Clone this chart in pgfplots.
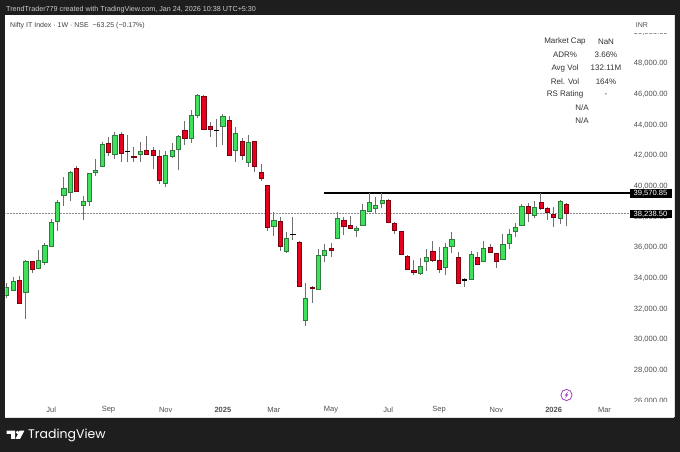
\documentclass[border=0pt]{standalone}
\usepackage{fontspec}
\setmainfont{Liberation Sans}
\newfontfamily\logofont{Poppins}
\usepackage{pgfplots}
\usepackage{pgfplotstable}
\pgfplotsset{compat=1.18}
\definecolor{tvdark}{HTML}{1E1E1E}
\definecolor{tvtext}{HTML}{505050}
\definecolor{upfill}{HTML}{3FE05A}
\definecolor{upedge}{HTML}{2F7A3F}
\definecolor{dnfill}{HTML}{E8001F}
\definecolor{dnedge}{HTML}{7A0010}
\definecolor{wickc}{HTML}{707070}
\definecolor{boltc}{HTML}{A040C0}
% t: 1 up, 2 down, 3 doji
\pgfplotstableread{
i t o h l c
0 1 32874 33721 32700 33395
1 1 33222 34069 33178 33786
2 2 33873 34177 32309 32353
3 1 33091 35198 31332 35111
4 2 35089 35133 34329 34568
5 1 34655 35849 34611 35154
6 1 35046 36284 34894 36132
7 1 36066 37869 36023 37652
8 1 37717 39107 37065 38977
9 1 39389 40627 38716 39889
10 1 39628 41018 39063 40909
11 2 41170 41322 39650 39693
12 1 38781 39389 37804 38998
13 1 38998 40866 38716 40823
14 1 40909 41778 40692 41040
15 1 41300 42864 41279 42734
16 2 42799 43233 41995 42191
17 1 42082 43515 41778 43320
18 2 43407 43559 41583 42169
19 3 42290 43342 41604 42270
20 2 41974 42538 41604 41865
21 1 42082 42864 41583 42278
22 2 42321 43277 42039 42082
23 2 42364 42538 41105 41995
24 2 41952 42364 40149 40388
25 1 40171 42321 39954 41995
26 1 41930 42820 41822 42321
27 1 42408 43342 41040 43255
28 2 43624 44254 42712 43103
29 1 43125 44970 42842 44645
30 1 44601 45991 44428 45948
31 2 45883 45926 43667 43733
32 2 43928 44210 43233 43689
33 3 43656 44362 42538 43636
34 1 43928 44732 42712 44536
35 2 44319 44580 41952 41995
36 1 42343 43885 41604 43450
37 2 42929 43168 41691 42017
38 1 41561 43342 41279 42864
39 2 42907 42929 40953 41279
40 2 40888 41474 40366 40497
41 2 40062 40106 37109 37304
42 1 37370 38325 36761 37760
43 2 37717 37978 35806 36110
44 1 35784 37044 35676 36631
45 3 36880 38021 36479 36860
46 2 36371 36414 33439 33482
47 1 31289 33678 30898 32700
48 2 33439 33504 32418 33374
49 1 33287 35893 33243 35524
50 1 35501 36240 35089 35827
51 2 35979 36283 35415 35849
52 1 36631 38325 36587 37912
53 2 37803 37977 36848 37369
54 2 37434 38064 37195 37261
55 1 37109 37391 36696 37261
56 1 37478 38846 37413 38412
57 1 38390 39541 38325 38933
58 1 38585 39280 38238 38759
59 1 38889 39541 38607 39106
60 2 39085 39150 37586 37651
61 2 37586 37695 36913 37109
62 2 37043 37087 35523 35588
63 2 35458 35523 34568 34611
64 2 34502 35197 34198 34372
65 1 34307 35306 34242 34763
66 1 35111 35892 34481 35371
67 2 35740 36414 35089 35154
68 2 35197 36023 34329 34611
69 1 34720 36327 34220 36044
70 1 36110 37022 35653 36522
71 2 35371 35740 33634 33677
72 3 33926 34003 33417 33906
73 1 33938 35784 33894 35567
74 2 35349 35719 34850 34893
75 1 35089 36435 35045 35936
76 2 36023 36218 35632 35697
77 2 35610 35675 34698 35089
78 1 35219 36891 35176 36240
79 1 36262 37239 35892 36848
80 1 37043 37630 36718 37347
81 1 37434 38868 37391 38672
82 2 38716 38889 37651 38216
83 1 38086 39020 37912 38629
84 2 38954 39570 38477 38542
85 2 38564 38672 37803 38281
86 2 38173 38672 37326 37977
87 1 37890 39106 37543 39020
88 2 38846 38889 37413 38238.5
}\candles
\begin{document}
\begin{tikzpicture}[x=1pt,y=1pt]
\fill[tvdark] (0,0) rectangle (680,452);
\begin{axis}[
  at={(5.5pt,34.5pt)}, anchor=south west,
  scale only axis, width=668.8pt, height=402.2pt,
  xmin=-0.184, xmax=104.97, ymin=24937, ymax=51140,
  axis background/.style={fill=white},
  axis line style={draw=black!12, line width=0.5pt},
  major tick length=0pt,
  scaled y ticks=false, scaled x ticks=false,
  axis x line*=bottom, axis y line*=right,
  xtick={7,16,25,34,42,51,60,68,77,86,94},
  xticklabels={Jul,Sep,Nov,\textbf{2025},Mar,May,Jul,Sep,Nov,\textbf{2026},Mar},
  ytick={26000,28000,30000,32000,34000,36000,38000,40000,42000,44000,46000,48000,50000},
  yticklabels={{26,000.00},{28,000.00},{30,000.00},{32,000.00},{34,000.00},{36,000.00},{38,000.00},{40,000.00},{42,000.00},{44,000.00},{46,000.00},{48,000.00},{50,000.00}},
  xticklabel style={anchor=center, inner sep=0pt, yshift=7.8pt, font=\fontsize{7.5}{9}\selectfont, text=tvtext},
  yticklabel style={anchor=east, inner sep=0pt, xshift=-6.4pt, font=\fontsize{7.6}{9}\selectfont, text=tvtext},
]
\addplot[forget plot, black!45, line width=0.5pt, densely dotted] coordinates {(-0.184,38238.5) (98,38238.5)};
\addplot[forget plot, black, line width=1.4pt] coordinates {(49.9,39570.85) (98,39570.85)};
\pgfplotsforeachungrouped \n in {0,...,88}{%
  \pgfplotstablegetelem{\n}{t}\of\candles \edef\ct{\pgfplotsretval}%
  \pgfplotstablegetelem{\n}{o}\of\candles \edef\co{\pgfplotsretval}%
  \pgfplotstablegetelem{\n}{h}\of\candles \edef\ch{\pgfplotsretval}%
  \pgfplotstablegetelem{\n}{l}\of\candles \edef\cl{\pgfplotsretval}%
  \pgfplotstablegetelem{\n}{c}\of\candles \edef\cc{\pgfplotsretval}%
  \pgfmathsetmacro\xa{\n-0.33}\pgfmathsetmacro\xb{\n+0.33}%
  \ifcase\ct\relax\or\def\cf{upfill}\def\ce{upedge}\or\def\cf{dnfill}\def\ce{dnedge}\else\def\cf{black}\def\ce{black}\fi
  \edef\temp{\noexpand\addplot[forget plot, no markers, wickc, line width=0.9pt] coordinates {(\n,\cl) (\n,\ch)};
    \noexpand\addplot[forget plot, no markers, fill=\cf, draw=\ce, line width=0.65pt] coordinates {(\xa,\co) (\xb,\co) (\xb,\cc) (\xa,\cc)} --cycle;}%
  \temp
}
\end{axis}
\begin{scope}[shift={(0,452)},y=-1pt,x=1pt]
% masks over clipped scale labels
\fill[white] (632,16) rectangle (673.5,33);
\fill[white] (632,402) rectangle (673.5,417);
% header
\node[anchor=west,inner sep=0,text=white!80!black,font=\fontsize{7.2}{8}\selectfont] at (6,10) {TrendTrader779 created with TradingView.com, Jan 24, 2026 10:38 UTC+5:30};
\node[anchor=west,inner sep=0,text=black!75,font=\fontsize{7}{8}\selectfont] at (10,25.5) {Nifty IT Index · 1W · NSE\ \ −63.25 (−0.17\%)};
\node[inner sep=0,text=tvtext,font=\fontsize{7}{8}\selectfont] at (642,25) {INR};
% info table
\begin{scope}[every node/.style={inner sep=0,text=black!80,font=\fontsize{8}{9}\selectfont}]
\node at (565,41.5) {Market Cap}; \node at (606,41.5) {NaN};
\node at (565,54.8) {ADR\%}; \node at (606,54.8) {3.66\%};
\node at (565,68) {Avg Vol}; \node at (606,68) {132.11M};
\node at (565,81.5) {Rel. Vol}; \node at (606,81.5) {164\%};
\node at (565,94.8) {RS Rating}; \node at (606,94.8) {-};
\node at (582,108) {N/A};
\node at (582,121) {N/A};
\end{scope}
% price labels
\fill[black] (629.5,188.8) rectangle (671.5,197.6);
\node[inner sep=0,text=white,font=\fontsize{7.6}{9}\selectfont] at (650.5,193.2) {39,570.85};
\fill[black] (629.5,209.6) rectangle (671.5,218.4);
\node[inner sep=0,text=white,font=\fontsize{7.6}{9}\selectfont] at (650.5,214) {38,238.50};
% bolt icon
\draw[boltc,line width=0.8pt] (566.5,395) circle (5.6);
\fill[boltc] (568,391.5) -- (564.6,395.6) -- (566.3,395.6) -- (565,398.5) -- (568.4,394.4) -- (566.7,394.4) -- cycle;
% logo
\fill[white] (6.7,430.7) rectangle (15,434) (11,430.7) rectangle (15,439);
\fill[white] (17.5,432.4) circle (1.7);
\fill[white] (19.6,430.7) -- (24.4,430.7) -- (20,439) -- (15.5,439) -- cycle;
\node[anchor=west,inner sep=0,text=white,font=\logofont\fontsize{12.5}{14}\selectfont] at (28,435) {TradingView};
\end{scope}
\end{tikzpicture}
\end{document}
